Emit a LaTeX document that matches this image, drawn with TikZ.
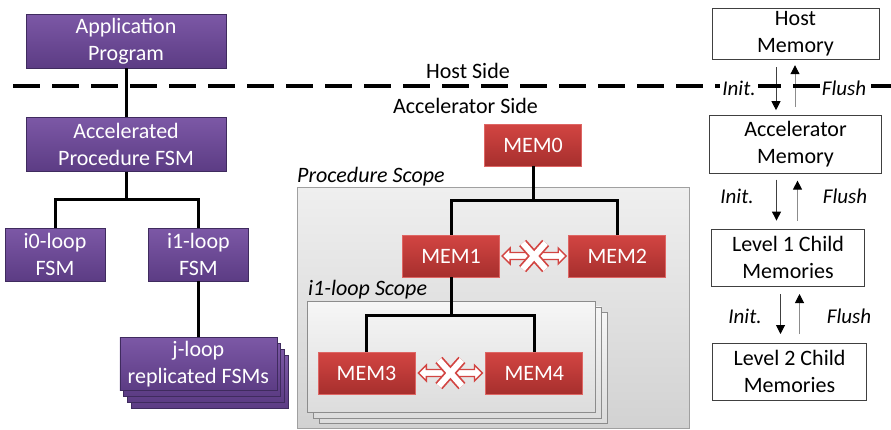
\documentclass[tikz,border=0pt]{standalone}
\usepackage{fontspec}
\setmainfont{Carlito}
\usetikzlibrary{arrows.meta, positioning, shapes.arrows}

\definecolor{fsmtop}{HTML}{7C58A6}
\definecolor{fsmbot}{HTML}{5C3C84}
\definecolor{fsmline}{HTML}{3F2B5E}
\definecolor{memtop}{HTML}{D24542}
\definecolor{membot}{HTML}{A72F2D}
\definecolor{memline}{HTML}{DE6664}
\definecolor{scopetop}{HTML}{EFEFEF}
\definecolor{scopebot}{HTML}{D2D2D2}
\definecolor{looptop}{HTML}{F6F6F6}
\definecolor{loopbot}{HTML}{DCDCDC}
\definecolor{scopeline}{HTML}{A0A0A0}

\begin{document}
\begin{tikzpicture}[
		x=1pt, y=1pt,
		every node/.style={inner sep=0pt, align=center, font=\fontsize{22}{27}\selectfont},
		fsm/.style={draw=fsmline, top color=fsmtop, bottom color=fsmbot, text=white, minimum width=100pt, minimum height=53pt},
		mem/.style={draw=memline, line width=0.8pt, top color=memtop, bottom color=membot, text=white, minimum width=97pt, minimum height=42pt},
		store/.style={draw=black!75, fill=white, minimum height=57pt},
		scope/.style={draw=scopeline, line width=0.8pt, top color=scopetop, bottom color=scopebot, anchor=north west},
		loopscope/.style={scope, draw=black!45, top color=looptop, bottom color=loopbot, minimum width=288pt, minimum height=111pt},
		scopelabel/.style={font=\fontsize{22}{27}\selectfont\itshape, anchor=base west},
		link/.style={line width=3pt},
		xarrow/.style={double arrow, double arrow head extend=4.5pt, minimum height=64pt, minimum width=15pt, inner sep=2.8pt, draw=memtop, line width=1.3pt, fill=white},
		flow/.style={-{Triangle[length=9pt, width=9pt, color=black]}, line width=1pt},
		init/.style={flow, black!75},
		flush/.style={flow, black!45},
		flowlabel/.style={font=\fontsize{21}{25}\selectfont\itshape, fill=white, inner sep=2pt},
		hostline/.style={line width=4pt, dash pattern=on 27pt off 12pt}
	]
	\useasboundingbox (0,0) rectangle (891,-429);

		% Scopes
		\node[scope, minimum width=392pt, minimum height=241pt] (proc) at (297,-187) {};
		\foreach \k in {2,1}
			\node[loopscope] (loop\k) at (307+6*\k,-301-5.5*\k) {};
		\node[loopscope] (loop) at (307,-301) {};
		\node[scopelabel] (proclabel) at ([yshift=5pt]proc.north west) {Procedure Scope};
		\node[scopelabel] (looplabel) at ([xshift=1pt, yshift=6pt]loop.north west) {i1-loop Scope};

		% FSMs
		\node[fsm, minimum width=200pt, minimum height=54pt] (app) at (126,-41) {Application\\Program};
		\node[fsm, minimum width=200pt, minimum height=54pt, below=49pt of app] (acc) {Accelerated\\Procedure FSM};
		\node[fsm] (i0) at (55,-254.5) {i0-loop\\FSM};
		\node[fsm, right=43pt of i0] (i1) {i1-loop\\FSM};
		\foreach \k in {3,2,1}
			\node[fsm, minimum width=157pt] (jloop\k) at (197.5+4*\k,-363.5-6*\k) {};
		\node[fsm, minimum width=157pt, below=56pt of i1] (jloop) {j-loop\\replicated FSMs};

		% Memories
		\node[mem] (mem0) at (533,-145) {MEM0};
		\node[mem] (mem1) at (451,-256) {MEM1};
		\node[mem, right=68.5pt of mem1] (mem2) {MEM2};
		\node[mem] (mem3) at (366.5,-373) {MEM3};
		\node[mem, right=70pt of mem3] (mem4) {MEM4};

		% Memory levels
		\node[store, minimum width=167pt, minimum height=51pt] (host) at (795.5,-33.5) {Host\\Memory};
		\node[store, minimum width=172pt, minimum height=58pt, below=56pt of host] (accm) {Accelerator\\Memory};
		\node[store, minimum width=153pt, below=55pt of accm, xshift=-7.5pt] (lvl1) {Level 1 Child\\Memories};
		\node[store, minimum width=154pt, below=57pt of lvl1, xshift=1.5pt] (lvl2) {Level 2 Child\\Memories};

		% Tree lines
		\draw[link] (app) -- (acc);
		\draw[link] (acc.south) -- ++(0,-28) -| (i0.north);
		\draw[link] (acc.south) -- ++(0,-28) -| (i1.north);
		\draw[link] (i1) -- (jloop);
		\draw[link] (mem0.south) -- ++(0,-34) -| (mem1.north);
		\draw[link] (mem0.south) -- ++(0,-34) -| (mem2.north);
		\draw[link] (mem1.south) -- ++(0,-38) -| (mem3.north);
		\draw[link] (mem1.south) -- ++(0,-38) -| (mem4.north);

		% No direct transfer between siblings
		\path (mem1.east) -- (mem2.west) node[midway, xarrow] (x12) {};
		\path (mem3.east) -- (mem4.west) node[midway, xarrow] (x34) {};
		\foreach \n in {x12, x34} {
			\draw[line width=9.5pt, memtop] ([shift={(-11.5pt,-13pt)}]\n.center) -- ([shift={(11.5pt,13pt)}]\n.center)
				([shift={(-11.5pt,13pt)}]\n.center) -- ([shift={(11.5pt,-13pt)}]\n.center);
			\draw[line width=6pt, white] ([shift={(-11.5pt,-13pt)}]\n.center) -- ([shift={(11.5pt,13pt)}]\n.center)
				([shift={(-11.5pt,13pt)}]\n.center) -- ([shift={(11.5pt,-13pt)}]\n.center);
		}

		% Init / Flush arrows
		\draw[init, shorten <=8pt, shorten >=5pt] ([xshift=-19.5pt]host.south) -- ([xshift=-19.5pt]host.south |- accm.north);
		\draw[flush, shorten <=8pt, shorten >=6pt] ([xshift=-0.5pt]host.south |- accm.north) -- ([xshift=-0.5pt]host.south);
		\draw[init, shorten <=6pt, shorten >=8pt] ([xshift=-19pt]accm.south) -- ([xshift=-19pt]accm.south |- lvl1.north);
		\draw[flush, shorten <=8pt, shorten >=7pt] ([xshift=2pt]accm.south |- lvl1.north) -- ([xshift=2pt]accm.south);
		\draw[init, shorten <=8pt, shorten >=9pt] ([xshift=-7.5pt]lvl1.south) -- ([xshift=-7.5pt]lvl1.south |- lvl2.north);
		\draw[flush, shorten <=9pt, shorten >=8pt] ([xshift=11.5pt]lvl1.south |- lvl2.north) -- ([xshift=11.5pt]lvl1.south);

		% Host / accelerator boundary
		\coordinate (sepw) at (13,-86);
		\coordinate (sepe) at (891,-86);
		\draw[hostline] (sepw) -- (sepe);
		\node (hostside) at (468,-71) {Host Side};
		\node (accside) at (465.5,-106) {Accelerator Side};

		% Labels
		\node[flowlabel] (init1) at (739,-88) {Init.};
		\node[flowlabel] (flush1) at (844,-88) {Flush};
		\node[flowlabel] (init2) at (737,-196) {Init.};
		\node[flowlabel] (flush2) at (845,-196) {Flush};
		\node[flowlabel] (init3) at (745,-316) {Init.};
		\node[flowlabel] (flush3) at (849,-316) {Flush};

	\end{tikzpicture}
\end{document}
